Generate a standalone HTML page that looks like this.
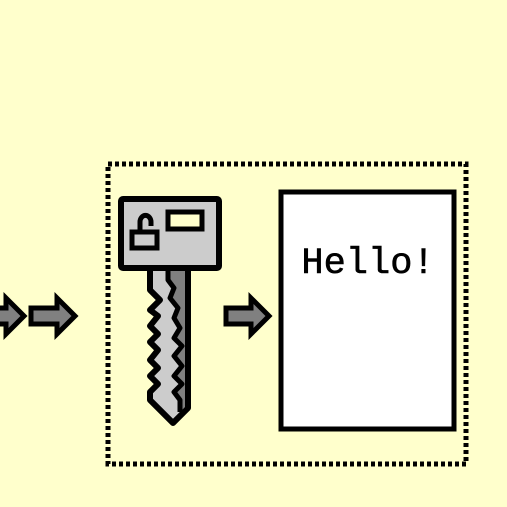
<!DOCTYPE html>
<html><head><style>html,body{margin:0;padding:0;background:#ffffcc;}svg{display:block}</style></head>
<body>
<svg width="507" height="507" viewBox="0 0 507 507" xmlns="http://www.w3.org/2000/svg">
<rect width="507" height="507" fill="#ffffcc"/>
<g stroke="#000" stroke-width="5" stroke-linejoin="miter" fill="#808080">
<polygon points="-10,308 6,308 6,298 24,316 6,334 6,324 -10,324"/>
<polygon points="31,308 57,308 57,298 75,316 57,334 57,324 31,324"/>
<polygon points="226,308 251,308 251,298 269,316 251,334 251,324 226,324"/>
</g>
<rect x="108" y="164" width="358" height="300" fill="none" stroke="#000" stroke-width="5" stroke-dasharray="4 3"/>
<rect x="281" y="192" width="173" height="237" fill="#fff" stroke="#000" stroke-width="5"/>
<text x="368" y="273" text-anchor="middle" font-family="Liberation Mono, monospace" font-size="37" stroke="#000" stroke-width="0.6">Hello!</text>
<!-- key shaft -->
<polygon points="150,266 188,266 188,408 173,423 150,400 150,392 158,384 150,376 158,368 150,360 158,350 150,342 158,334 150,326 158,316 150,310 160,300 150,290" fill="#cccccc" stroke="#000" stroke-width="6" stroke-linejoin="round"/>
<polygon points="168,268 186,268 186,406 180,412 180,400 174,392 182,384 174,376 182,366 174,356 182,346 174,338 180,328 174,318 178,306 170,296 174,286 168,278" fill="#808080"/>
<polyline points="168,268 168,280 174,288 170,298 178,308 174,318 180,328 174,338 182,346 174,356 182,366 174,376 182,384 174,392 180,400 180,412" fill="none" stroke="#000" stroke-width="5" stroke-linejoin="round"/>
<line x1="188" y1="266" x2="188" y2="408" stroke="#000" stroke-width="6"/>
<!-- key head -->
<rect x="121" y="199" width="98" height="69" rx="2" fill="#cccccc" stroke="#000" stroke-width="6"/>
<rect x="168" y="212" width="34" height="17" fill="#ffffcc" stroke="#000" stroke-width="5"/>
<path d="M140,232 V222 A5,6 0 0 1 151,222 V226" fill="none" stroke="#000" stroke-width="5"/>
<rect x="132" y="232" width="25" height="16" fill="#cccccc" stroke="#000" stroke-width="5"/>
</svg>
</body></html>
